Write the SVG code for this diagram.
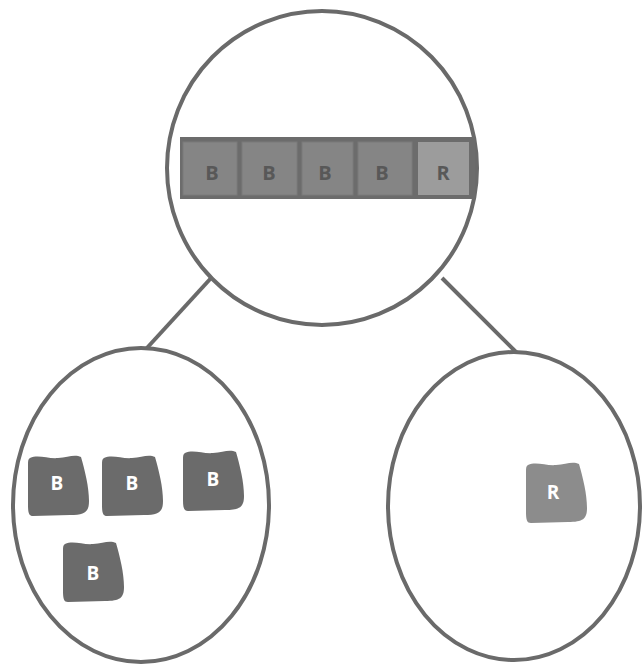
<svg xmlns="http://www.w3.org/2000/svg" width="642" height="665" viewBox="0 0 642 665">
<style>
.ring{fill:#fff;stroke:#6a6a6a;stroke-width:4}
.edge{stroke:#6a6a6a;stroke-width:4;fill:none}
.cell{fill:#858585;stroke:#7a7a7a;stroke-width:1}
.cellr{fill:#9c9c9c}
.ct{font-family:"Open Sans","Liberation Sans",sans-serif;font-weight:bold;font-size:20px;fill:#585858;text-anchor:middle}
.bt{font-family:"Open Sans","Liberation Sans",sans-serif;font-weight:bold;font-size:19px;fill:#fff;text-anchor:middle}
</style>
<defs>
<path id="blob" d="M2,3 C10,-1 20,4 30,3 C40,2 47,-1 53,2 C57,16 61,32 61,46 C61,57 57,60 42,60 L5,61 C1,61 0,58 0,50 L0,10 C0,6 0,4 2,3 Z"/>
</defs>
<g id="connectors">
<line class="edge" x1="212" y1="277" x2="146" y2="349"/>
<line class="edge" x1="442" y1="278" x2="517" y2="353"/>
</g>
<g id="root">
<ellipse class="ring" cx="322" cy="168" rx="155" ry="157"/>
<rect x="180" y="137" width="295" height="62" fill="#6c6c6c"/>
<rect class="cell" x="183" y="142" width="54" height="53"/>
<rect class="cell" x="242" y="142" width="55" height="53"/>
<rect class="cell" x="302" y="142" width="51" height="53"/>
<rect class="cell" x="358" y="142" width="54" height="53"/>
<rect class="cellr" x="418" y="142" width="51" height="53"/>
<text class="ct" x="212" y="180">B</text>
<text class="ct" x="269" y="180">B</text>
<text class="ct" x="325" y="180">B</text>
<text class="ct" x="382" y="180">B</text>
<text class="ct" x="443" y="180" fill="#6a6a6a">R</text>
</g>
<g id="left">
<ellipse class="ring" cx="141" cy="505" rx="128" ry="157"/>
<use href="#blob" x="28" y="455" fill="#6b6b6b"/>
<use href="#blob" x="102" y="455" fill="#6b6b6b"/>
<use href="#blob" x="183" y="450" fill="#6b6b6b"/>
<use href="#blob" x="63" y="541" fill="#6b6b6b"/>
<text class="bt" x="57" y="490">B</text>
<text class="bt" x="132" y="490">B</text>
<text class="bt" x="213" y="486">B</text>
<text class="bt" x="93" y="580">B</text>
</g>
<g id="right">
<ellipse class="ring" cx="514" cy="506" rx="126" ry="154"/>
<use href="#blob" x="526" y="462" fill="#8c8c8c"/>
<text class="bt" x="553" y="499">R</text>
</g>
</svg>
